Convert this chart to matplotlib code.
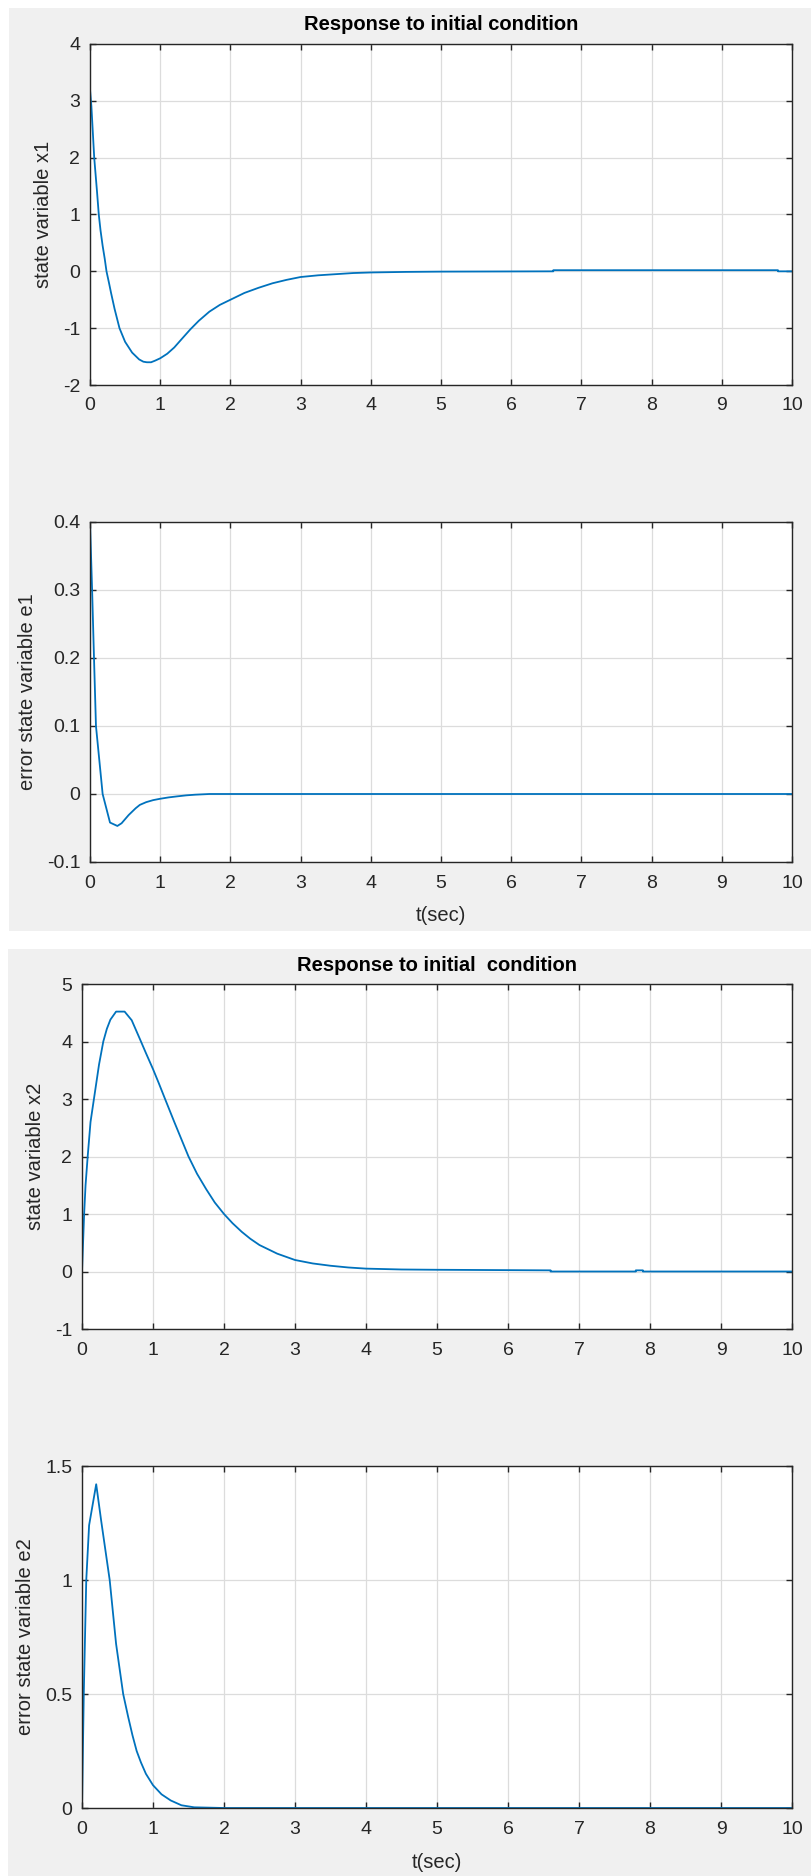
import matplotlib
matplotlib.use('Agg')
import matplotlib.pyplot as plt
from matplotlib.patches import Rectangle

plt.rcParams['font.family'] = ['Liberation Sans', 'DejaVu Sans']

# values
t_x1 = [0, 0.02, 0.06, 0.1, 0.125, 0.15, 0.18, 0.21, 0.235, 0.27, 0.3, 0.35,
        0.42, 0.5, 0.6, 0.7, 0.76, 0.81, 0.87, 0.93, 1.0, 1.1, 1.2, 1.3,
        1.43, 1.55, 1.7, 1.85, 2.0, 2.2, 2.4, 2.6, 2.8, 3.0, 3.25, 3.5, 3.75,
        4.0, 4.5, 5.0, 6.6, 6.6, 9.8, 9.8, 10]
x1 = [3.2, 2.9, 2.0, 1.4, 1.0, 0.72, 0.45, 0.22, 0.0, -0.2, -0.38, -0.66,
      -1.0, -1.24, -1.43, -1.55, -1.59, -1.6, -1.6, -1.57, -1.53, -1.45,
      -1.34, -1.2, -1.02, -0.87, -0.71, -0.59, -0.5, -0.38, -0.29, -0.21,
      -0.15, -0.10, -0.07, -0.05, -0.03, -0.02, -0.01, -0.005, 0.0, 0.02,
      0.02, 0.0, 0.0]

t_e1 = [0, 0.03, 0.057, 0.085, 0.18, 0.285, 0.39, 0.45, 0.5, 0.55, 0.6,
        0.65, 0.71, 0.8, 0.9, 1.0, 1.12, 1.24, 1.37, 1.5, 1.7, 10]
e1 = [0.4, 0.3, 0.2, 0.1, 0.0, -0.042, -0.047, -0.043, -0.037, -0.031,
      -0.026, -0.021, -0.016, -0.012, -0.009, -0.007, -0.005, -0.0035,
      -0.002, -0.001, 0.0, 0.0]

t_x2 = [0, 0.015, 0.03, 0.05, 0.08, 0.12, 0.18, 0.24, 0.3, 0.35, 0.4, 0.48,
        0.6, 0.7, 0.82, 0.9, 1.0, 1.08, 1.17, 1.3, 1.4, 1.5, 1.62, 1.75,
        1.87, 2.0, 2.12, 2.25, 2.37, 2.5, 2.75, 3.0, 3.25, 3.5, 3.75, 4.0,
        4.5, 5.0, 6.6, 6.6, 7.8, 7.8, 7.9, 7.9, 10]
x2 = [0.0, 0.5, 1.0, 1.5, 2.0, 2.6, 3.1, 3.6, 4.0, 4.22, 4.38, 4.52, 4.52,
      4.37, 4.03, 3.8, 3.52, 3.28, 3.0, 2.6, 2.3, 2.0, 1.7, 1.43, 1.2, 1.0,
      0.84, 0.69, 0.57, 0.46, 0.31, 0.2, 0.14, 0.1, 0.07, 0.05, 0.035, 0.03,
      0.02, 0.0, 0.0, 0.02, 0.02, 0.0, 0.0]

t_e2 = [0, 0.025, 0.06, 0.1, 0.2, 0.27, 0.39, 0.48, 0.58, 0.65, 0.71, 0.77,
        0.83, 0.9, 1.0, 1.12, 1.25, 1.4, 1.58, 2.0, 10]
e2 = [0.0, 0.5, 1.0, 1.24, 1.42, 1.26, 1.0, 0.72, 0.5, 0.4, 0.32, 0.25,
      0.2, 0.15, 0.1, 0.06, 0.033, 0.012, 0.003, 0.0, 0.0]

x_ticks = list(range(0, 11))
panels = [
    # (t, y, ylabel, yticks, yticklabels, title, xlabel)
    (t_x1, x1, 'state variable x1', [-2, -1, 0, 1, 2, 3, 4],
     ['-2', '-1', '0', '1', '2', '3', '4'],
     'Response to initial condition', None),
    (t_e1, e1, 'error state variable e1', [-0.1, 0, 0.1, 0.2, 0.3, 0.4],
     ['-0.1', '0', '0.1', '0.2', '0.3', '0.4'], None, 't(sec)'),
    (t_x2, x2, 'state variable x2', [-1, 0, 1, 2, 3, 4, 5],
     ['-1', '0', '1', '2', '3', '4', '5'],
     'Response to initial  condition', None),
    (t_e2, e2, 'error state variable e2', [0, 0.5, 1, 1.5],
     ['0', '0.5', '1', '1.5'], None, 't(sec)'),
]

W, H = 811, 1876
# axes boxes in pixels: left, right, top, bottom
boxes = [(90, 792, 44, 385), (90, 792, 522, 862),
         (82, 792, 984, 1329), (82, 792, 1466, 1808)]
ylabel_x = [44, 28, 36, 26]
xlabel_y = [None, 915, None, 1862]
title_y = [25, None, 965, None]

fig = plt.figure(figsize=(W / 100, H / 100), dpi=100, facecolor='white')

# the two grey MATLAB figure windows
for (x0, x1p, y0, y1p) in [(9, 811, 8, 931), (8, 811, 949, 1876)]:
    fig.patches.append(Rectangle((x0 / W, 1 - y1p / H), (x1p - x0) / W,
                                 (y1p - y0) / H, transform=fig.transFigure,
                                 facecolor='#f0f0f0', edgecolor='none',
                                 zorder=-10))

dark = '#262626'
fs = 14.5
for i, (t, y, ylab, yt, ytl, title, xlab) in enumerate(panels):
    l, r, top, bot = boxes[i]
    w, h = r - l, bot - top
    ax = fig.add_axes([l / W, 1 - bot / H, w / W, h / H])
    ax.set_zorder(1)
    ax.plot(t, y, color='#0072BD', lw=1.3)
    ax.set_xlim(0, 10)
    ax.set_ylim(yt[0], yt[-1])
    ax.set_xticks(x_ticks)
    ax.set_yticks(yt)
    ax.set_yticklabels(ytl)
    ax.grid(True, color='#dcdcdc', lw=0.9)
    ax.set_axisbelow(True)
    for s in ax.spines.values():
        s.set_color(dark)
        s.set_linewidth(1.0)
    ax.tick_params(direction='in', length=4, width=1.0, color=dark,
                   top=True, right=True, labelsize=14, labelcolor=dark)
    ax.tick_params(axis='x', pad=9)
    ax.tick_params(axis='y', pad=7)
    ax.set_ylabel(ylab, fontsize=fs, color=dark, va='center')
    ax.yaxis.set_label_coords((ylabel_x[i] - l) / w, 0.5)
    if xlab:
        ax.set_xlabel(xlab, fontsize=fs, color=dark, va='center')
        ax.xaxis.set_label_coords(0.5, -(xlabel_y[i] - bot) / h)
    if title:
        ax.set_title(title, fontsize=fs, fontweight='bold', color='black',
                     y=1 + (top - title_y[i]) / h, va='center', pad=0)

fig.savefig('out.png', dpi=100, facecolor=fig.get_facecolor())
